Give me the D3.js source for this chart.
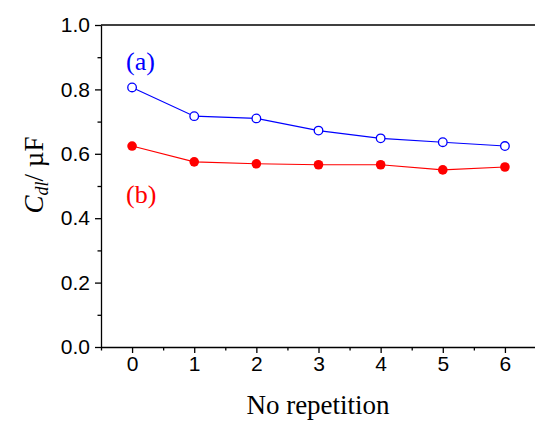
<!DOCTYPE html>
<html>
<head>
<meta charset="utf-8">
<script src="https://cdn.jsdelivr.net/npm/d3@7"></script>
<style>
  body { margin: 0; background: #fff; }
  .domain, .tick line { stroke: #000; stroke-width: 1.3; }
</style>
</head>
<body>
<svg id="chart" width="535" height="423"></svg>
<script>
// data
var repetitions = [0, 1, 2, 3, 4, 5, 6];
var seriesA = [0.806, 0.717, 0.710, 0.672, 0.648, 0.636, 0.624];
var seriesB = [0.624, 0.575, 0.569, 0.566, 0.566, 0.550, 0.559];
var yTicks = [0.0, 0.2, 0.4, 0.6, 0.8, 1.0];
var xTicks = [0, 1, 2, 3, 4, 5, 6];

var svg = d3.select("#chart");

// plot area
var plotLeft = 101, plotRight = 536, plotTop = 25, plotBottom = 347;

var x = d3.scaleLinear().domain([-0.5, 6.5]).range([plotLeft, plotRight]);
var y = d3.scaleLinear().domain([0, 1]).range([plotBottom, plotTop]);

function styleTicks(g) {
  g.selectAll(".tick text")
    .attr("font-family", "'Liberation Sans', Arial, sans-serif")
    .attr("font-size", "21px")
    .attr("fill", "#000");
}

// minor ticks first so the major ones sit on top
svg.append("g")
  .attr("transform", "translate(0," + plotBottom + ")")
  .call(d3.axisBottom(x).tickValues(d3.range(-0.5, 6.6, 1)).tickSize(3.5).tickFormat(""))
  .call(function(g) { g.select(".domain").remove(); });

svg.append("g")
  .attr("transform", "translate(" + plotLeft + ",0)")
  .call(d3.axisLeft(y).tickValues(d3.range(0.1, 1, 0.2)).tickSize(3.5).tickFormat(""))
  .call(function(g) { g.select(".domain").remove(); });

// x axis
svg.append("g")
  .attr("transform", "translate(0," + plotBottom + ")")
  .call(d3.axisBottom(x).tickValues(xTicks).tickSize(6).tickSizeOuter(0).tickPadding(3).tickFormat(d3.format("d")))
  .call(styleTicks);

// y axis
svg.append("g")
  .attr("transform", "translate(" + plotLeft + ",0)")
  .call(d3.axisLeft(y).tickValues(yTicks).tickSize(6).tickSizeOuter(0).tickPadding(5).tickFormat(d3.format(".1f")))
  .call(styleTicks);

// top frame line
svg.append("line")
  .attr("x1", plotLeft).attr("x2", plotRight)
  .attr("y1", y(1)).attr("y2", y(1))
  .attr("stroke", "#000").attr("stroke-width", 1.3);

var line = d3.line()
  .x(function(d, i) { return x(repetitions[i]); })
  .y(function(d) { return y(d); });

// series (b) - red filled
svg.append("path")
  .datum(seriesB)
  .attr("d", line)
  .attr("fill", "none")
  .attr("stroke", "red")
  .attr("stroke-width", 1.1);

svg.selectAll(".dotB")
  .data(seriesB)
  .enter().append("circle")
  .attr("class", "dotB")
  .attr("cx", function(d, i) { return x(repetitions[i]); })
  .attr("cy", function(d) { return y(d); })
  .attr("r", 4.8)
  .attr("fill", "red");

// series (a) - blue open
svg.append("path")
  .datum(seriesA)
  .attr("d", line)
  .attr("fill", "none")
  .attr("stroke", "blue")
  .attr("stroke-width", 1.1);

svg.selectAll(".dotA")
  .data(seriesA)
  .enter().append("circle")
  .attr("class", "dotA")
  .attr("cx", function(d, i) { return x(repetitions[i]); })
  .attr("cy", function(d) { return y(d); })
  .attr("r", 4.3)
  .attr("fill", "#fff")
  .attr("stroke", "blue")
  .attr("stroke-width", 1.3);

// series labels
svg.append("text")
  .attr("x", 126).attr("y", 70)
  .style("font-family", "'Liberation Serif', 'Times New Roman', serif")
  .style("font-size", "26px")
  .style("fill", "blue")
  .text("(a)");

svg.append("text")
  .attr("x", 126).attr("y", 203)
  .style("font-family", "'Liberation Serif', 'Times New Roman', serif")
  .style("font-size", "26px")
  .style("fill", "red")
  .text("(b)");

// axis titles
svg.append("text")
  .attr("x", 318).attr("y", 414)
  .attr("text-anchor", "middle")
  .style("font-family", "'Liberation Serif', 'Times New Roman', serif")
  .style("font-size", "27px")
  .text("No repetition");

var ylab = svg.append("text")
  .attr("transform", "translate(43,175) rotate(-90)")
  .attr("text-anchor", "middle")
  .style("font-family", "'Liberation Serif', 'Times New Roman', serif")
  .style("font-size", "27px");
ylab.append("tspan").style("font-style", "italic").text("C");
ylab.append("tspan").style("font-style", "italic").style("font-size", "18px").attr("dy", 5).text("dl");
ylab.append("tspan").attr("dy", -5).text("/ \u00b5F");
</script>
</body>
</html>
